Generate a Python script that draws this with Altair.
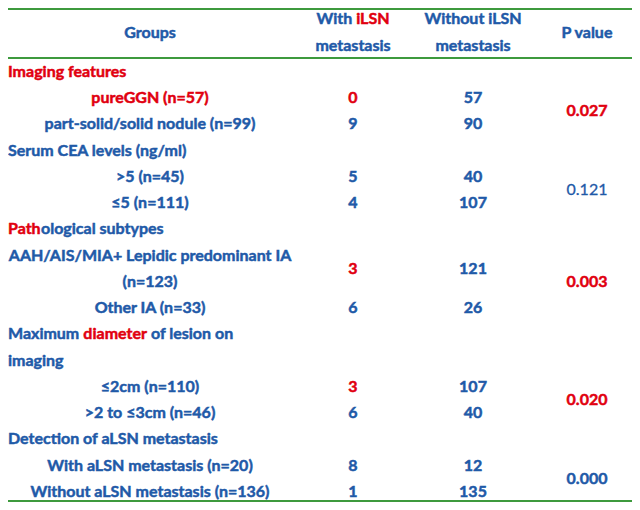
import os
import struct
import altair as alt
import pandas as pd

BLUE = "#1f5aa8"
RED = "#e1000f"
GREEN = "#3d9a3d"
FONT = "Lato"
FS = 16

# ---- table content ----
# columns: 0 = section label (left), 1 = group label (centred), 2 = with iLSN, 3 = without iLSN, 4 = P value
header_groups = "Groups"
header_with_parts = ["With ", "iLSN"]          # second part in red
header_with2 = "metastasis"
header_without = ["Without iLSN", "metastasis"]
header_p = "P value"

section_titles = ["Imaging features", "Serum CEA levels (ng/ml)", "imaging", "Detection of aLSN metastasis"]
section_rows = [0, 3, 11, 14]
section_tone = ["red", "blue", "blue", "blue"]
# multi-coloured section titles
path_parts = ["Path", "ological subtypes"]
path_tones = ["red", "blue"]
diam_parts = ["Maximum ", "diameter ", "of lesion on"]
diam_tones = ["blue", "red", "blue"]

subgroups = ["pureGGN (n=57)", "part-solid/solid nodule (n=99)", ">5 (n=45)", "≤5 (n=111)",
             "AAH/AIS/MIA+ Lepidic predominant IA", "(n=123)", "Other IA (n=33)",
             "≤2cm (n=110)", ">2 to ≤3cm (n=46)", "With aLSN metastasis (n=20)",
             "Without aLSN metastasis (n=136)"]
subgroup_rows = [1, 2, 4, 5, 7, 8, 9, 12, 13, 15, 16]
subgroup_tone = ["red"] + ["blue"] * 10

with_counts = [0, 9, 5, 4, 3, 6, 3, 6, 8, 1]
without_counts = [57, 90, 40, 107, 121, 26, 107, 40, 12, 135]
count_rows = [1, 2, 4, 5, 7.5, 9, 12, 13, 15, 16]
with_tone = ["red", "blue", "blue", "blue", "red", "blue", "red", "blue", "blue", "blue"]

p_values = ["0.027", "0.121", "0.003", "0.020", "0.000"]
p_rows = [1.5, 4.5, 8, 12.5, 15.5]
p_tone = ["red", "blue", "red", "red", "blue"]
p_bold = [True, False, True, True, True]

rule_rows = [-2.4, -0.533, 16.343]


# ---- text width measurement from the installed font (for joining coloured pieces) ----
def _find_font(names):
    for root in ["/usr/share/fonts", "/usr/local/share/fonts",
                 os.path.expanduser("~/.fonts"), os.path.expanduser("~/.local/share/fonts")]:
        for dp, _, fn in os.walk(root):
            for f in fn:
                if f in names:
                    return os.path.join(dp, f)
    return None


def _make_measure(path):
    data = open(path, "rb").read()
    u16 = lambda o: struct.unpack(">H", data[o:o + 2])[0]
    n = u16(4)
    tables = {}
    for i in range(n):
        rec = data[12 + 16 * i: 28 + 16 * i]
        tables[rec[:4].decode("latin1")] = struct.unpack(">I", rec[8:12])[0]
    upem = u16(tables["head"] + 18)
    nhm = u16(tables["hhea"] + 34)
    hm = tables["hmtx"]
    advs = [u16(hm + 4 * i) for i in range(nhm)]
    cm = tables["cmap"]
    sub = None
    for i in range(u16(cm + 2)):
        pid, eid, off = struct.unpack(">HHI", data[cm + 4 + 8 * i: cm + 12 + 8 * i])
        if u16(cm + off) == 4 and pid in (0, 3):
            sub = cm + off
            break
    seg2 = u16(sub + 6)
    segn = seg2 // 2
    endb = sub + 14
    startb = endb + seg2 + 2
    deltab = startb + seg2
    rob = deltab + seg2

    def gid(c):
        for i in range(segn):
            if u16(endb + 2 * i) >= c:
                s = u16(startb + 2 * i)
                if s > c:
                    return 0
                d = u16(deltab + 2 * i)
                ro = u16(rob + 2 * i)
                if ro == 0:
                    return (c + d) & 0xFFFF
                g = u16(rob + 2 * i + ro + 2 * (c - s))
                return (g + d) & 0xFFFF if g else 0
        return 0

    def width(t):
        return sum(advs[min(gid(ord(ch)), nhm - 1)] for ch in t) / upem * FS

    return width


try:
    measure = _make_measure(_find_font({"Lato-Bold.ttf", "Lato-Bold.otf"}))
except Exception:
    _fallback = {"Path": 37.0, "Maximum ": 75.0, "diameter ": 68.0, "With ": 42.0,
                 "iLSN": 29.0, "With iLSN": 71.0}
    measure = lambda t: _fallback.get(t, 8.0 * len(t))

# ---- shared encodings ----
W, H = 624, 494
xscale = alt.Scale(type="linear", domain=[0, 1, 2, 3, 4], range=[0, 142, 345, 465, 579],
                   nice=False, zero=False)
yscale = alt.Scale(domain=[-2.438, 16.381], reverse=True, nice=False, zero=False)
cscale = alt.Scale(domain=["blue", "red"], range=[BLUE, RED])

X = alt.X("col:Q", scale=xscale, axis=None)
Y = alt.Y("row:Q", scale=yscale, axis=None)
C = alt.Color("tone:N", scale=cscale, legend=None)
S = alt.Stroke("tone:N", scale=cscale, legend=None)


def txt(df, align="center", weight="bold", dx=0, sw=0.5):
    return alt.Chart(df).mark_text(
        align=align, baseline="middle", font=FONT, fontSize=FS, fontWeight=weight, dx=dx,
        strokeWidth=sw
    ).encode(x=X, y=Y, text="t:N", color=C, stroke=S)


def pieces(parts, tones, col, row, start_dx):
    layers = []
    dx = start_dx
    for p, tn in zip(parts, tones):
        layers.append(txt(pd.DataFrame({"t": [p.strip()], "col": [col], "row": [row], "tone": [tn]}),
                          align="left", dx=round(dx, 2)))
        dx += measure(p)
    return layers


rules = alt.Chart(pd.DataFrame({"row": rule_rows})).mark_rule(
    color=GREEN, strokeWidth=2
).encode(x=alt.value(0), x2=alt.value(W), y=Y)

header = txt(pd.DataFrame({
    "t": [header_groups, header_with2, header_without[0], header_without[1], header_p],
    "col": [1, 2, 3, 3, 4],
    "row": [-1.5, -1, -2, -1, -1.5],
    "tone": ["blue"] * 5,
}))
with_layers = pieces(header_with_parts, ["blue", "red"], 2, -2,
                     -measure("".join(header_with_parts)) / 2)

sections = txt(pd.DataFrame({"t": section_titles, "col": [0] * len(section_titles),
                             "row": section_rows, "tone": section_tone}), align="left")
path_layers = pieces(path_parts, path_tones, 0, 6, 0)
diam_layers = pieces(diam_parts, diam_tones, 0, 10, 0)

groups = txt(pd.DataFrame({"t": subgroups, "col": [1] * len(subgroups), "row": subgroup_rows,
                           "tone": subgroup_tone}))

counts = txt(pd.DataFrame({
    "t": [str(v) for v in with_counts] + [str(v) for v in without_counts],
    "col": [2] * len(with_counts) + [3] * len(without_counts),
    "row": count_rows + count_rows,
    "tone": with_tone + ["blue"] * len(without_counts),
}))

pdf = pd.DataFrame({"t": p_values, "col": [4] * 5, "row": p_rows, "tone": p_tone, "b": p_bold})
p_b = txt(pdf[pdf["b"]].drop(columns="b"))
p_n = txt(pdf[~pdf["b"]].drop(columns="b"), weight="normal", sw=0.3)

chart = alt.layer(
    rules, header, *with_layers, sections, *path_layers, *diam_layers, groups, counts, p_b, p_n
).properties(
    width=W, height=H, padding=0, autosize=alt.AutoSizeParams(type="none"),
    background="white"
).configure_view(stroke=None)

chart.save("out.html", embed_options={"renderer": "svg", "actions": False})
